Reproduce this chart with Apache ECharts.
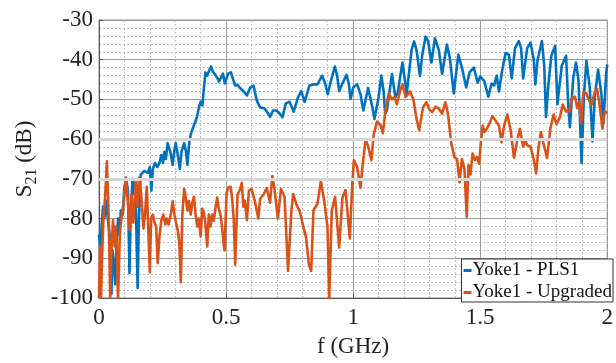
<!DOCTYPE html>
<html>
<head>
<meta charset="utf-8">
<script src="https://cdn.jsdelivr.net/npm/echarts@6/dist/echarts.min.js"></script>
<style>
  html, body { margin: 0; padding: 0; background: #fff; }
  #chart { width: 616px; height: 363px; }
</style>
</head>
<body>
<div id="chart"></div>
<script>
var FONT = '"Liberation Serif", "Times New Roman", serif';

// Yoke1 - PLS1 (blue), frequency in GHz, S21 in dB
var pls1Freq = [0.000, 0.003, 0.006, 0.010, 0.016, 0.021, 0.027, 0.032, 0.038, 0.043, 0.049, 0.053, 0.058, 0.064, 0.069, 0.075, 0.080, 0.086, 0.093, 0.100,
  0.107, 0.114, 0.120, 0.124, 0.132, 0.138, 0.143, 0.152, 0.157, 0.164, 0.171, 0.178, 0.185, 0.192, 0.200, 0.206, 0.212, 0.220, 0.230, 0.238,
  0.245, 0.252, 0.257, 0.263, 0.270, 0.280, 0.290, 0.296, 0.302, 0.310, 0.318, 0.325, 0.335, 0.342, 0.348, 0.355, 0.361, 0.368, 0.374, 0.380,
  0.387, 0.393, 0.400, 0.407, 0.413, 0.419, 0.425, 0.432, 0.441, 0.448, 0.455, 0.465, 0.472, 0.478, 0.488, 0.495, 0.500, 0.508, 0.519, 0.528,
  0.536, 0.545, 0.556, 0.570, 0.582, 0.595, 0.608, 0.621, 0.634, 0.650, 0.660, 0.673, 0.685, 0.698, 0.710, 0.722, 0.735, 0.750, 0.766, 0.783,
  0.796, 0.809, 0.828, 0.847, 0.860, 0.878, 0.890, 0.900, 0.912, 0.928, 0.937, 0.945, 0.958, 0.974, 0.983, 0.990, 1.000, 1.016, 1.029, 1.040,
  1.059, 1.075, 1.084, 1.100, 1.111, 1.120, 1.126, 1.133, 1.153, 1.166, 1.175, 1.194, 1.211, 1.230, 1.240, 1.250, 1.263, 1.272, 1.285, 1.295,
  1.308, 1.322, 1.337, 1.350, 1.369, 1.380, 1.396, 1.414, 1.430, 1.445, 1.458, 1.475, 1.490, 1.500, 1.516, 1.532, 1.545, 1.555, 1.565, 1.574,
  1.587, 1.600, 1.613, 1.624, 1.637, 1.652, 1.661, 1.669, 1.685, 1.698, 1.711, 1.717, 1.726, 1.743, 1.752, 1.759, 1.769, 1.780, 1.795, 1.804,
  1.821, 1.838, 1.847, 1.853, 1.866, 1.877, 1.887, 1.899, 1.908, 1.918, 1.931, 1.942, 1.951, 1.964, 1.977, 1.985, 1.996, 2.000];
var pls1Db = [-84, -86, -90, -82, -77, -80, -75.5, -76, -82, -85, -99, -88, -91, -96.5, -86, -80, -84, -78, -79, -72,
  -70, -73, -93.7, -80, -70, -73.8, -71, -97.5, -80, -69, -69.5, -68, -67.5, -68.5, -67, -73, -67.5, -66, -67, -66,
  -64, -66, -63.2, -65, -61, -63, -66.5, -63, -61, -64, -67.5, -63, -61, -63, -66.5, -61, -58.8, -57.5, -56.4, -55.5,
  -54, -52, -50.6, -51.5, -47, -43.2, -44, -43, -41.7, -43, -42.5, -44.5, -45.5, -45, -43.5, -46, -45, -43.5, -43.2, -45,
  -46.5, -46.3, -47.2, -48, -49, -47, -46.5, -50.3, -52, -52.2, -53, -54.4, -52.8, -52.8, -53.5, -54.5, -51, -50.6, -53.1, -49.5,
  -47.9, -50.6, -46.5, -46.2, -46.2, -44, -46, -48.7, -45.5, -41.7, -44, -47.9, -46, -43.8, -46, -49.9, -47, -46.2, -48.7, -52.8,
  -47.1, -51.8, -54.9, -49.5, -44, -48, -53.6, -52.8, -43.6, -49.4, -48.5, -40.7, -48.5, -37.5, -35.4, -37.7, -44.1, -38.8, -34.2, -35.3,
  -40.7, -34.6, -37.5, -43.6, -36.2, -39.3, -48.5, -38.7, -42.5, -47, -43.2, -42, -45.8, -44.2, -45.4, -49.3, -46, -46.5, -44, -48,
  -42.5, -38.3, -38.7, -44.7, -37.1, -35.3, -37.1, -44.7, -37.1, -35.7, -40, -46.2, -40, -35.3, -41.5, -54.4, -45.9, -39, -36.5, -51.2,
  -41.5, -39, -52, -57, -44.7, -40.7, -45.3, -66, -49.3, -40.3, -46.9, -60.6, -49.3, -42.5, -48.7, -56, -43.3, -41.2];

// Yoke1 - Upgraded (orange)
var upgFreq = [0.000, 0.004, 0.008, 0.012, 0.017, 0.024, 0.031, 0.035, 0.039, 0.044, 0.049, 0.055, 0.062, 0.066, 0.070, 0.075, 0.082, 0.088, 0.096, 0.106,
  0.114, 0.121, 0.128, 0.135, 0.145, 0.152, 0.158, 0.166, 0.175, 0.181, 0.188, 0.200, 0.205, 0.212, 0.218, 0.225, 0.231, 0.238, 0.245, 0.253,
  0.261, 0.266, 0.274, 0.283, 0.290, 0.296, 0.303, 0.310, 0.316, 0.322, 0.328, 0.335, 0.341, 0.348, 0.354, 0.361, 0.367, 0.374, 0.380, 0.387,
  0.393, 0.400, 0.406, 0.413, 0.419, 0.426, 0.432, 0.439, 0.445, 0.452, 0.458, 0.465, 0.471, 0.478, 0.484, 0.490, 0.494, 0.502, 0.509, 0.518,
  0.524, 0.530, 0.536, 0.545, 0.553, 0.562, 0.568, 0.574, 0.582, 0.590, 0.600, 0.613, 0.627, 0.634, 0.647, 0.660, 0.673, 0.682, 0.690, 0.704,
  0.716, 0.730, 0.744, 0.757, 0.764, 0.777, 0.790, 0.802, 0.815, 0.826, 0.835, 0.844, 0.860, 0.873, 0.886, 0.899, 0.906, 0.916, 0.929, 0.945,
  0.958, 0.970, 0.987, 0.996, 1.003, 1.016, 1.029, 1.036, 1.049, 1.059, 1.072, 1.081, 1.094, 1.107, 1.117, 1.127, 1.140, 1.153, 1.163, 1.172,
  1.185, 1.194, 1.207, 1.224, 1.237, 1.250, 1.260, 1.275, 1.288, 1.301, 1.311, 1.324, 1.337, 1.350, 1.363, 1.373, 1.386, 1.399, 1.409, 1.419,
  1.428, 1.438, 1.447, 1.454, 1.462, 1.470, 1.479, 1.487, 1.496, 1.503, 1.510, 1.517, 1.526, 1.539, 1.548, 1.561, 1.574, 1.584, 1.594, 1.607,
  1.620, 1.633, 1.646, 1.656, 1.669, 1.678, 1.685, 1.698, 1.711, 1.720, 1.730, 1.739, 1.752, 1.763, 1.776, 1.789, 1.800, 1.813, 1.825, 1.838,
  1.851, 1.860, 1.873, 1.882, 1.890, 1.897, 1.906, 1.918, 1.925, 1.938, 1.951, 1.960, 1.970, 1.981, 1.990, 2.000];
var upgDb = [-100, -87, -100, -90, -80.4, -74.7, -65.6, -73, -82, -100, -88, -80.4, -87, -82, -88, -100, -84, -80, -77, -69.7,
  -76, -82.9, -74, -81, -70.5, -77, -69.7, -74, -82.5, -79, -72, -93.5, -80, -79, -81, -82, -91.2, -84.5, -80.5, -79,
  -81.5, -80, -81.5, -78.7, -75.6, -78.7, -81, -83, -86, -96, -79, -72.5, -74.5, -78, -75.6, -79, -76, -74.5, -79, -82,
  -80, -84.5, -77.5, -78.5, -81.5, -87, -79, -82, -79, -80.5, -77.5, -74.7, -77.5, -79, -82, -86, -88, -73.6, -72.1, -72,
  -75, -80, -91.6, -74, -73, -71, -77, -75.5, -80.4, -73, -72.5, -75.5, -80, -75, -74, -72.3, -76, -69.3, -72.3, -80,
  -72.5, -74.5, -93.2, -78.2, -73.8, -76.5, -78.2, -81.5, -84.8, -91.6, -93.2, -77.9, -76.2, -70.5, -75.5, -82, -100, -78, -74.5, -87.3,
  -74.7, -72.8, -85, -72, -65.3, -67, -72.3, -67.5, -60, -61.8, -65.3, -58.8, -55.6, -56.3, -58.5, -53, -48.5, -50, -49.4, -51.2,
  -47.8, -46.2, -49.4, -48, -50, -55, -57.8, -52, -50.7, -52.6, -53.2, -51.8, -52.3, -53.6, -50.7, -53.5, -61, -64.6, -65, -70.9,
  -65, -67.5, -79.5, -66.5, -68.9, -63.6, -65.3, -64.5, -66.2, -60.5, -56.6, -58.2, -57.4, -55.7, -54.2, -55.4, -56.6, -60.8, -56.6, -53.8,
  -57.8, -64.7, -60.3, -57.4, -61.9, -60.3, -61.5, -61.9, -65.2, -68.6, -61.9, -58.2, -61.9, -64.7, -57.4, -53.8, -56.2, -54.6, -51.3, -53,
  -53, -49.7, -49.3, -52.2, -50.5, -56, -48.1, -48.5, -49.7, -51.4, -48.1, -47.3, -51.4, -57.4, -53, -53.5];

var legendNames = ['Yoke1 - PLS1', 'Yoke1 - Upgraded'];
var xTickValues = [0, 0.5, 1, 1.5, 2];
var yRange = [-100, -30];
var highlightDb = [-60, -70];

function zip(xs, ys) {
  return xs.map(function (x, i) { return [x, ys[i]]; });
}

var chart = echarts.init(document.getElementById('chart'), null, { renderer: 'canvas' });

var option = {
  animation: false,
  grid: {
    left: 99, right: 3, top: 20, bottom: 61,
    show: true, borderColor: '#8a8a8a', borderWidth: 1
  },
  legend: {
    data: legendNames,
    orient: 'vertical',
    right: 3, bottom: 61,
    icon: 'rect',
    itemWidth: 8, itemHeight: 3,
    itemGap: 3,
    padding: [2, 1, 0, 2],
    backgroundColor: '#fff',
    borderColor: '#333', borderWidth: 1,
    textStyle: { fontFamily: FONT, fontSize: 19, color: '#111', padding: [0, 0, 0, -4] }
  },
  xAxis: {
    type: 'value',
    min: xTickValues[0], max: xTickValues[xTickValues.length - 1], interval: 0.5,
    name: 'f (GHz)', nameLocation: 'middle', nameGap: 37,
    nameTextStyle: { fontFamily: FONT, fontSize: 23, color: '#222' },
    axisLine: { lineStyle: { color: '#555' } },
    axisTick: { inside: true, length: 4, lineStyle: { color: '#555' } },
    axisLabel: { fontFamily: FONT, fontSize: 23, color: '#222', margin: 8 },
    splitLine: { lineStyle: { color: '#9a9a9a', width: 1 } },
    minorTick: { show: false, splitNumber: 5 },
    minorSplitLine: { show: true, lineStyle: { color: '#bdbdbd', type: [2, 2] } }
  },
  yAxis: {
    type: 'value',
    min: yRange[0], max: yRange[1], interval: 10,
    name: '{s|S}{sub|21}{s| (dB)}', nameLocation: 'middle', nameGap: 56, nameRotate: 90,
    nameTextStyle: {
      fontFamily: FONT, fontSize: 23, color: '#222',
      rich: {
        s: { fontFamily: FONT, fontSize: 23, color: '#222', lineHeight: 30 },
        sub: { fontFamily: FONT, fontSize: 16, color: '#222', lineHeight: 14, verticalAlign: 'bottom' }
      }
    },
    axisLine: { show: true, lineStyle: { color: '#555' } },
    axisTick: { show: true, inside: true, length: 4, lineStyle: { color: '#555' } },
    axisLabel: { fontFamily: FONT, fontSize: 23, color: '#222', margin: 6 },
    splitLine: { lineStyle: { color: '#9a9a9a', width: 1 } },
    minorTick: { show: false, splitNumber: 5 },
    minorSplitLine: { show: true, lineStyle: { color: '#bdbdbd', type: [2, 2] } }
  },
  series: [
    {
      name: 'grid-highlight', type: 'line', data: [], z: 1, silent: true,
      markLine: {
        silent: true, symbol: 'none', label: { show: false },
        lineStyle: { color: '#d6d6d6', width: 3, type: 'solid' },
        data: highlightDb.map(function (v) { return { yAxis: v }; })
      }
    },
    {
      name: legendNames[0], type: 'line', data: zip(pls1Freq, pls1Db),
      showSymbol: false, symbol: 'none', z: 3,
      lineStyle: { color: '#0072BD', width: 2.6, join: 'round' },
      itemStyle: { color: '#0072BD' }
    },
    {
      name: legendNames[1], type: 'line', data: zip(upgFreq, upgDb),
      showSymbol: false, symbol: 'none', z: 4,
      lineStyle: { color: '#D95319', width: 2.6, join: 'round' },
      itemStyle: { color: '#D95319' }
    }
  ]
};

chart.setOption(option);
</script>
</body>
</html>
